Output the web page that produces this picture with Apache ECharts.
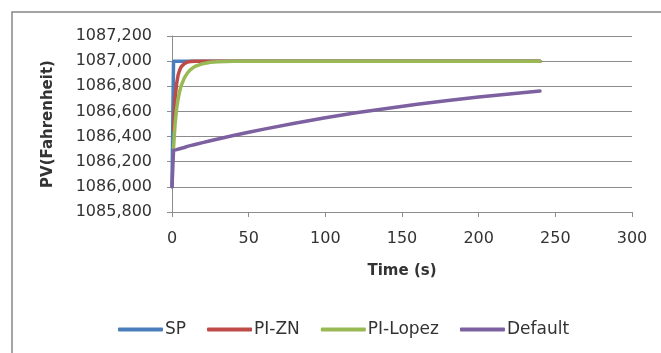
<!DOCTYPE html>
<html>
<head>
<meta charset="utf-8">
<script src="https://cdn.jsdelivr.net/npm/echarts@6/dist/echarts.min.js"></script>
<style>
  html, body { margin: 0; padding: 0; background: #ffffff; }
  #chart { width: 661px; height: 353px; }
</style>
</head>
<body>
<div id="chart"></div>
<script>
// Process variable response of three controller tunings to a setpoint step
const time = [0, 1, 2, 3, 4, 5, 6, 8, 10, 12, 15, 20, 25, 30, 40, 50, 60, 80, 100, 120, 140, 160, 180, 200, 220, 240];
const sp = [1086000, 1087000, 1087000, 1087000, 1087000, 1087000, 1087000, 1087000, 1087000, 1087000, 1087000, 1087000, 1087000, 1087000, 1087000, 1087000, 1087000, 1087000, 1087000, 1087000, 1087000, 1087000, 1087000, 1087000, 1087000, 1087000];
const piZN = [null, 1086450, 1086700, 1086820, 1086890, 1086930, 1086955, 1086980, 1086992, 1086997, 1087000, 1087000, 1087000, 1087000, 1087000, 1087000, 1087000, 1087000, 1087000, 1087000, 1087000, 1087000, 1087000, 1087000, 1087000, 1087000];
const piLopez = [null, 1086310, 1086500, 1086620, 1086700, 1086760, 1086805, 1086865, 1086905, 1086932, 1086958, 1086980, 1086991, 1086996, 1087000, 1087000, 1087000, 1087000, 1087000, 1087000, 1087000, 1087000, 1087000, 1087000, 1087000, 1087000];
const defaultTuning = [1086000, 1086290, 1086293, 1086296, 1086300, 1086303, 1086306, 1086313, 1086322, 1086328, 1086337, 1086352, 1086367, 1086381, 1086408, 1086434, 1086459, 1086506, 1086549, 1086589, 1086624, 1086657, 1086687, 1086714, 1086739, 1086762];

const seriesNames = ['SP', 'PI-ZN', 'PI-Lopez', 'Default'];
const seriesValues = [sp, piZN, piLopez, defaultTuning];
const seriesColors = ['#4A7EBB', '#BE4B48', '#98B954', '#7D60A0'];

const xTicks = { min: 0, max: 300, interval: 50 };
const yTicks = { min: 1085800, max: 1087200, interval: 200 };

const FONT = 'DejaVu Sans';
const TEXT = '#333333';
const GRID = '#8c8c8c';

// "1087,200" style: only the last group is separated
function yLabel(v) {
  const head = Math.floor(v / 1000);
  const tail = String(Math.round(v % 1000)).padStart(3, '0');
  return head + ',' + tail;
}

const chart = echarts.init(document.getElementById('chart'), null, { renderer: 'canvas' });

chart.setOption({
  animation: false,
  backgroundColor: '#ffffff',
  graphic: [{
    type: 'rect',
    shape: { x: 12, y: 12, width: 700, height: 400 },
    style: { fill: 'none', stroke: '#868686', lineWidth: 1.5 },
    silent: true
  }],
  grid: { left: 172, right: 29, top: 36, bottom: 141, containLabel: false },
  legend: {
    left: 118,
    top: 321,
    padding: 0,
    itemWidth: 45,
    itemHeight: 4,
    itemGap: 21,
    icon: 'roundRect',
    textStyle: { fontFamily: FONT, fontSize: 17, color: TEXT, padding: [0, 0, 0, -3] },
    data: seriesNames
  },
  xAxis: {
    type: 'value',
    min: xTicks.min,
    max: xTicks.max,
    interval: xTicks.interval,
    name: 'Time (s)',
    nameLocation: 'middle',
    nameGap: 52,
    nameTextStyle: { fontFamily: FONT, fontSize: 15, fontWeight: 'bold', color: TEXT },
    axisLine: { lineStyle: { color: GRID, width: 1 } },
    axisTick: { show: true, length: 5, lineStyle: { color: GRID } },
    axisLabel: { fontFamily: FONT, fontSize: 16, color: TEXT, margin: 19 },
    splitLine: { show: false }
  },
  yAxis: {
    type: 'value',
    min: yTicks.min,
    max: yTicks.max,
    interval: yTicks.interval,
    name: 'PV(Fahrenheit)',
    nameLocation: 'middle',
    nameGap: 116,
    nameTextStyle: { fontFamily: FONT, fontSize: 15, fontWeight: 'bold', color: TEXT },
    axisLine: { show: true, lineStyle: { color: GRID, width: 1 } },
    axisTick: { show: true, length: 5, lineStyle: { color: GRID } },
    axisLabel: { fontFamily: FONT, fontSize: 16, color: TEXT, margin: 20, formatter: yLabel },
    splitLine: { show: true, lineStyle: { color: GRID, width: 1 } }
  },
  series: seriesNames.map((name, i) => ({
    name: name,
    type: 'line',
    data: time.map((t, k) => [t, seriesValues[i][k]]),
    showSymbol: false,
    symbol: 'none',
    smooth: false,
    connectNulls: false,
    lineStyle: { color: seriesColors[i], width: 3.5, cap: 'round', join: 'round' },
    itemStyle: { color: seriesColors[i] },
    z: 2 + i
  }))
});
</script>
</body>
</html>
